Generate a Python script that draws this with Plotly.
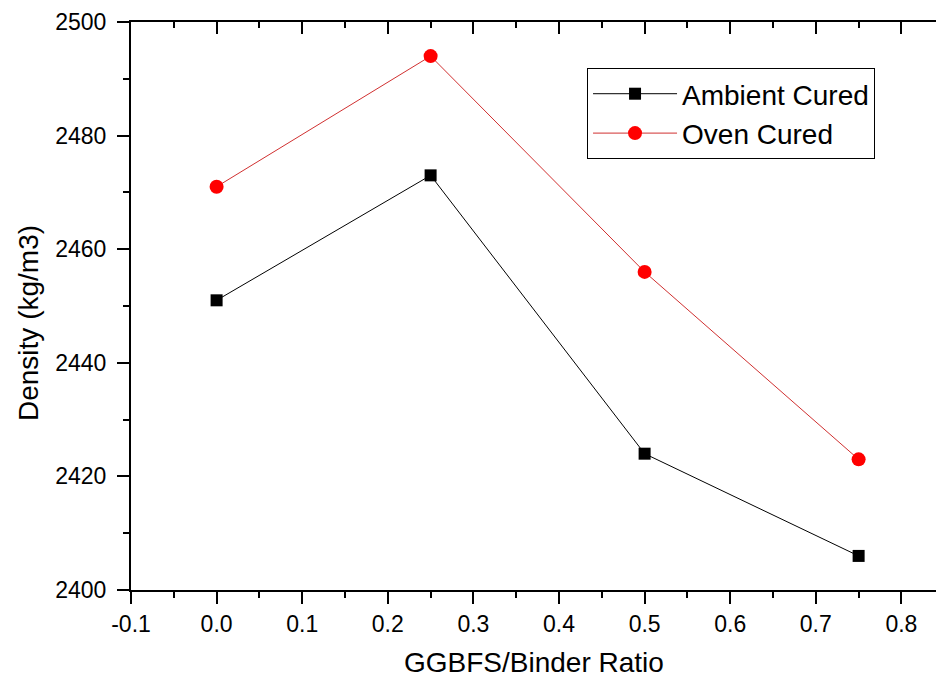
import plotly.graph_objects as go

ratio = [0.0, 0.25, 0.5, 0.75]
ambient_cured = [2451, 2473, 2424, 2406]
oven_cured = [2471, 2494, 2456, 2423]
x_ticks = [-0.1, 0.0, 0.1, 0.2, 0.3, 0.4, 0.5, 0.6, 0.7, 0.8]
y_ticks = [2400, 2420, 2440, 2460, 2480, 2500]
x_title = "GGBFS/Binder Ratio"
y_title = "Density (kg/m3)"

FONT = "Liberation Sans, Arial, sans-serif"

fig = go.Figure()
fig.add_trace(go.Scatter(
    x=ratio, y=ambient_cured, mode="lines+markers", name="Ambient Cured",
    line=dict(color="black", width=1),
    marker=dict(symbol="square", size=12, color="black"),
))
fig.add_trace(go.Scatter(
    x=ratio, y=oven_cured, mode="lines+markers", name="Oven Cured",
    line=dict(color="#d03030", width=1),
    marker=dict(symbol="circle", size=14, color="#ff0000"),
))
# helper trace so the top (mirror) axis is drawn
fig.add_trace(go.Scatter(
    x=ratio, y=ambient_cured, xaxis="x2", mode="markers",
    marker=dict(opacity=0), showlegend=False, hoverinfo="skip",
))

xr = [-0.1, 0.8404]
fig.update_layout(
    width=936, height=677,
    margin=dict(l=131, r=0, t=22, b=87),
    paper_bgcolor="white", plot_bgcolor="white",
    font=dict(family=FONT, color="black"),
    xaxis=dict(
        range=xr, tickvals=x_ticks, ticktext=[f"{v:.1f}" for v in x_ticks],
        showgrid=False, zeroline=False, showline=True, linecolor="black", linewidth=2,
        ticks="outside", ticklen=12, tickwidth=2, tickcolor="black",
        minor=dict(dtick=0.05, ticks="outside", ticklen=6, tickwidth=2, tickcolor="black"),
        tickfont=dict(size=23),
    ),
    xaxis2=dict(
        range=xr, overlaying="x", side="top", anchor="y", tickvals=x_ticks,
        showticklabels=False, showgrid=False, zeroline=False,
        showline=True, linecolor="black", linewidth=2,
        ticks="inside", ticklen=12, tickwidth=2, tickcolor="black",
        minor=dict(dtick=0.05, ticks="inside", ticklen=6, tickwidth=2, tickcolor="black"),
    ),
    yaxis=dict(
        range=[2400, 2500], tickvals=y_ticks,
        showgrid=False, zeroline=False, showline=True, linecolor="black", linewidth=2,
        ticks="outside", ticklen=12, tickwidth=2, tickcolor="black",
        minor=dict(dtick=10, ticks="outside", ticklen=6, tickwidth=2, tickcolor="black"),
        tickfont=dict(size=23), ticklabelstandoff=6,
    ),
    legend=dict(
        x=0.5665, y=0.919, xanchor="left", yanchor="top",
        bordercolor="black", borderwidth=1, bgcolor="white",
        font=dict(size=28), tracegroupgap=0, itemwidth=84,
    ),
    showlegend=True,
    annotations=[
        dict(text=x_title, xref="paper", yref="paper", x=0.5, y=-0.1285,
             xanchor="center", yanchor="middle", showarrow=False,
             font=dict(size=28)),
        dict(text=y_title, xref="paper", yref="paper", x=-0.128, y=0.470,
             xanchor="center", yanchor="middle", showarrow=False, textangle=-90,
             font=dict(size=28)),
    ],
)

fig.write_html("out.html")
